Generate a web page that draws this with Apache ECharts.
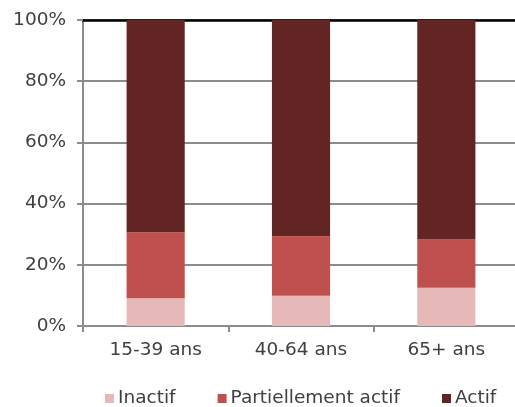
<!DOCTYPE html>
<html><head><meta charset="utf-8">
<script src="https://cdn.jsdelivr.net/npm/echarts@6/dist/echarts.min.js"></script>
<style>html,body{margin:0;padding:0;background:#fff}#c{width:515px;height:407px}</style>
</head><body><div id="c"></div>
<script>
const categories = ['15-39 ans', '40-64 ans', '65+ ans'];
const inactif = [9.1, 9.9, 12.5];
const partiellement = [21.5, 19.4, 15.8];
const actif = [69.4, 70.7, 71.7];
const yTicks = [0, 20, 40, 60, 80, 100];

const font = 'DejaVu Sans, Verdana, sans-serif';
const chart = echarts.init(document.getElementById('c'));
chart.setOption({
  animation: false,
  grid: { left: 83, width: 436, top: 20, height: 306, outerBoundsMode: 'none', containLabel: false },
  legend: {
    top: 389, left: 105, padding: 0,
    itemWidth: 9, itemHeight: 9, itemGap: 42,
    icon: 'rect',
    textStyle: { fontFamily: font, fontSize: 18.5, color: '#404040', padding: [0, 0, 0, -1] },
    data: ['Inactif', 'Partiellement actif', 'Actif']
  },
  xAxis: [{
    type: 'category', data: categories,
    axisLine: { lineStyle: { color: '#8c8c8c', width: 2 } },
    axisTick: { show: true, length: 6, lineStyle: { color: '#8c8c8c', width: 2 } },
    axisLabel: { fontFamily: font, fontSize: 18.5, color: '#404040', margin: 15 }
  }, {
    type: 'category', data: categories, position: 'top',
    axisLine: { lineStyle: { color: '#000', width: 2.5 } },
    axisTick: { show: false }, axisLabel: { show: false }
  }],
  yAxis: {
    type: 'value', min: yTicks[0], max: yTicks[yTicks.length - 1], interval: 20,
    axisLine: { show: true, lineStyle: { color: '#8c8c8c', width: 2 } },
    axisTick: { show: true, length: 6, lineStyle: { color: '#8c8c8c', width: 2 } },
    splitLine: { lineStyle: { color: '#8c8c8c', width: 2 } },
    axisLabel: { fontFamily: font, fontSize: 18.5, color: '#404040', margin: 17, formatter: v => v + '%' }
  },
  series: [
    { name: 'Inactif', type: 'bar', stack: 's', data: inactif, barWidth: '40%', itemStyle: { color: '#E6B9B8' } },
    { name: 'Partiellement actif', type: 'bar', stack: 's', data: partiellement, itemStyle: { color: '#C0504D' } },
    { name: 'Actif', type: 'bar', stack: 's', data: actif, itemStyle: { color: '#632523' } }
  ]
});
</script></body></html>
